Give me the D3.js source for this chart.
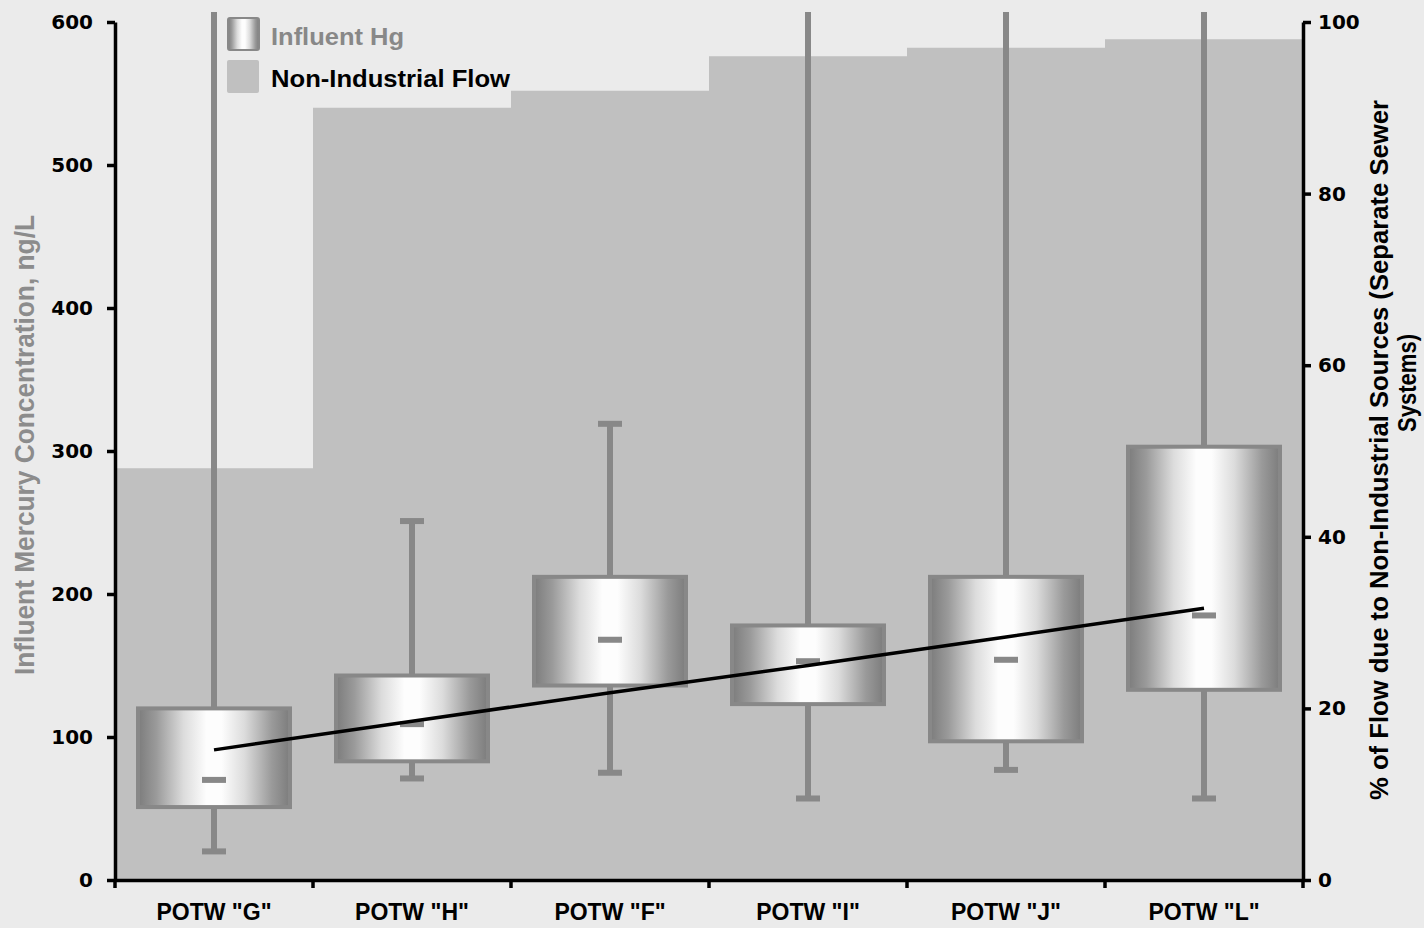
<!DOCTYPE html>
<html>
<head>
<meta charset="utf-8">
<script src="https://cdn.jsdelivr.net/npm/d3@7/dist/d3.min.js"></script>
<style>
  html, body { margin: 0; padding: 0; background: #ebebeb; }
  svg { display: block; }
</style>
</head>
<body>
<svg id="chart" width="1424" height="928"></svg>
<script>
// ---- data ----
const categories = ['POTW "G"', 'POTW "H"', 'POTW "F"', 'POTW "I"', 'POTW "J"', 'POTW "L"'];
const whiskerLow  = [20, 71, 75, 57, 77, 57];
const q1          = [51, 83, 136, 123, 97, 133];
const median      = [70, 109, 168, 153, 154, 185];
const q3          = [120, 143, 212, 178, 212, 303];
const whiskerHigh = [650, 251, 319, 650, 650, 650]; // >600 run off the top of the plot
const nonIndustrialPct = [48, 90, 92, 96, 97, 98];
const trendValues = [91, 111, 131, 150, 170, 190];
const leftTicks  = [0, 100, 200, 300, 400, 500, 600];
const rightTicks = [0, 20, 40, 60, 80, 100];
const legendLabels = ["Influent Hg", "Non-Industrial Flow"];
const leftTitle = "Influent Mercury Concentration, ng/L";
const rightTitleLines = ["% of Flow due to Non-Industrial Sources (Separate Sewer", "Systems)"];

// ---- layout ----
const svg = d3.select("#chart");
const X0 = 115, X1 = 1303, Y0 = 880, Y1 = 22;
const gray = "#888888", areaFill = "#c0c0c0";

const x = d3.scaleBand().domain(categories).range([X0, X1]).paddingInner(0).paddingOuter(0);
const y = d3.scaleLinear().domain([0, 600]).range([Y0, Y1]);
const yR = d3.scaleLinear().domain([0, 100]).range([Y0, Y1]);

const defs = svg.append("defs");
const grad = defs.append("linearGradient").attr("id", "boxGrad")
  .attr("x1", "0%").attr("x2", "100%").attr("y1", "0%").attr("y2", "0%");
[[0, "#7c7c7c"], [0.12, "#9a9a9a"], [0.3, "#dcdcdc"], [0.45, "#fdfdfd"], [0.55, "#fdfdfd"],
 [0.7, "#dcdcdc"], [0.88, "#9a9a9a"], [1, "#7c7c7c"]].forEach(([o, c]) =>
  grad.append("stop").attr("offset", o).attr("stop-color", c));
defs.append("clipPath").attr("id", "plotClip").append("rect")
  .attr("x", X0).attr("y", 12).attr("width", X1 - X0).attr("height", Y0 - 12);

// background
svg.append("rect").attr("width", 1424).attr("height", 928).attr("fill", "#ebebeb");

// non-industrial flow step area
const areaPts = categories.map((c, i) => [x(c), nonIndustrialPct[i]]);
areaPts.push([X1, nonIndustrialPct[nonIndustrialPct.length - 1]]);
svg.append("path")
  .attr("d", d3.area().x(d => d[0]).y0(Y0).y1(d => yR(d[1])).curve(d3.curveStepAfter)(areaPts))
  .attr("fill", areaFill);

const cx = c => x(c) + x.bandwidth() / 2;
const boxW = 152, capW = 24, capH = 6;

const plot = svg.append("g").attr("clip-path", "url(#plotClip)");

// whiskers
plot.selectAll("line.whisk").data(categories).join("line")
  .attr("x1", cx).attr("x2", cx)
  .attr("y1", (c, i) => y(whiskerLow[i])).attr("y2", (c, i) => y(whiskerHigh[i]))
  .attr("stroke", gray).attr("stroke-width", 6);
// low caps
plot.selectAll("rect.capL").data(categories).join("rect")
  .attr("x", c => cx(c) - capW / 2).attr("y", (c, i) => y(whiskerLow[i]) - capH / 2)
  .attr("width", capW).attr("height", capH).attr("fill", gray);
// high caps (only when inside axis range)
plot.selectAll("rect.capH").data(categories.filter((c, i) => whiskerHigh[i] <= 600)).join("rect")
  .attr("x", c => cx(c) - capW / 2)
  .attr("y", c => y(whiskerHigh[categories.indexOf(c)]) - capH / 2)
  .attr("width", capW).attr("height", capH).attr("fill", gray);

// boxes
svg.selectAll("rect.box").data(categories).join("rect")
  .attr("x", c => cx(c) - boxW / 2).attr("y", (c, i) => y(q3[i]))
  .attr("width", boxW).attr("height", (c, i) => y(q1[i]) - y(q3[i]))
  .attr("fill", "url(#boxGrad)").attr("stroke", gray).attr("stroke-width", 4);
// medians
svg.selectAll("rect.med").data(categories).join("rect")
  .attr("x", c => cx(c) - capW / 2).attr("y", (c, i) => y(median[i]) - capH / 2)
  .attr("width", capW).attr("height", capH).attr("fill", gray);

// trend line
svg.append("path")
  .attr("d", d3.line().x((d, i) => cx(categories[i])).y(d => y(d))(trendValues))
  .attr("fill", "none").attr("stroke", "#000").attr("stroke-width", 3.5);

// axes
const numFont = "'DejaVu Sans', sans-serif";
const axL = svg.append("g").attr("transform", `translate(${X0},0)`)
  .call(d3.axisLeft(y).tickValues(leftTicks).tickSize(8).tickSizeOuter(0).tickPadding(14));
const axR = svg.append("g").attr("transform", `translate(${X1},0)`)
  .call(d3.axisRight(yR).tickValues(rightTicks).tickSize(8).tickSizeOuter(0).tickPadding(7));
[axL, axR].forEach(g => {
  g.select(".domain").attr("stroke", "#000").attr("stroke-width", 3.5);
  g.selectAll(".tick line").attr("stroke", "#000").attr("stroke-width", 3.5);
  g.selectAll(".tick text").attr("font-family", numFont).attr("font-weight", "bold")
    .attr("font-size", 20).attr("fill", "#000");
});

const axB = svg.append("g").attr("transform", `translate(0,${Y0})`)
  .call(d3.axisBottom(x).tickSize(0).tickSizeOuter(0).tickPadding(24));
axB.select(".domain").attr("stroke", "#000").attr("stroke-width", 3.5);
axB.selectAll(".tick text").attr("font-family", "'Liberation Sans', Arial, sans-serif")
  .attr("font-weight", "bold").attr("font-size", 23).attr("fill", "#000");
const bounds = categories.map(c => x(c)).concat([X1]);
axB.selectAll("line.bt").data(bounds).join("line")
  .attr("x1", d => d).attr("x2", d => d).attr("y1", 0).attr("y2", 8)
  .attr("stroke", "#000").attr("stroke-width", 3.5);

// axis titles
const narrow = "'Liberation Sans Narrow', 'Arial Narrow', 'Liberation Sans', sans-serif";
svg.append("text").attr("transform", "translate(34,445) rotate(-90)")
  .attr("text-anchor", "middle").attr("font-family", narrow).attr("font-weight", "bold")
  .attr("font-size", 27).attr("fill", "#8c8c8c")
  .attr("textLength", 460).attr("lengthAdjust", "spacingAndGlyphs").text(leftTitle);
svg.append("text").attr("transform", "translate(1388,450) rotate(-90)")
  .attr("text-anchor", "middle").attr("font-family", narrow).attr("font-weight", "bold")
  .attr("font-size", 26).attr("fill", "#000")
  .attr("textLength", 700).attr("lengthAdjust", "spacingAndGlyphs").text(rightTitleLines[0]);
svg.append("text").attr("transform", "translate(1416,383) rotate(-90)")
  .attr("text-anchor", "middle").attr("font-family", narrow).attr("font-weight", "bold")
  .attr("font-size", 26).attr("fill", "#000")
  .attr("textLength", 98).attr("lengthAdjust", "spacingAndGlyphs").text(rightTitleLines[1]);

// legend
const lg = svg.append("g");
lg.append("rect").attr("x", 228).attr("y", 18).attr("width", 31).attr("height", 32).attr("rx", 2)
  .attr("fill", "url(#boxGrad)").attr("stroke", gray).attr("stroke-width", 2);
lg.append("rect").attr("x", 227).attr("y", 60).attr("width", 32).attr("height", 33).attr("rx", 2)
  .attr("fill", areaFill);
lg.append("text").attr("x", 271).attr("y", 45).attr("font-family", "'Liberation Sans', Arial, sans-serif")
  .attr("font-weight", "bold").attr("font-size", 24).attr("fill", gray)
  .attr("textLength", 133).attr("lengthAdjust", "spacingAndGlyphs").text(legendLabels[0]);
lg.append("text").attr("x", 271).attr("y", 87).attr("font-family", "'Liberation Sans', Arial, sans-serif")
  .attr("font-weight", "bold").attr("font-size", 24).attr("fill", "#000")
  .attr("textLength", 239).attr("lengthAdjust", "spacingAndGlyphs").text(legendLabels[1]);
</script>
</body>
</html>
